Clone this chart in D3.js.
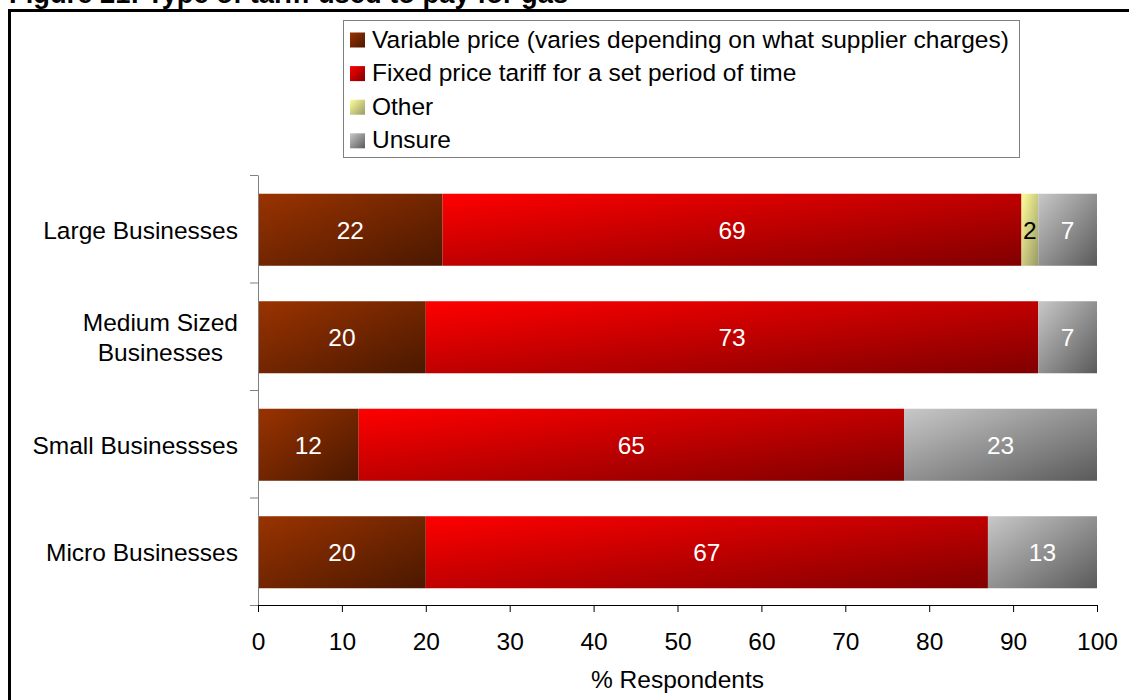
<!DOCTYPE html>
<html>
<head>
<meta charset="utf-8">
<script src="https://cdn.jsdelivr.net/npm/d3@7"></script>
<style>
  html, body { margin: 0; padding: 0; background: #fff; }
  svg { display: block; font-family: Arial, "Liberation Sans", sans-serif; }
</style>
</head>
<body>
<svg id="chart" width="1129" height="700"></svg>
<script>
// Share of respondents by tariff type, per business size
const categories = ["Large Businesses", "Medium Sized\nBusinesses", "Small Businessses", "Micro Businesses"];
const seriesNames = [
  "Variable price (varies depending on what supplier charges)",
  "Fixed price tariff for a set period of time",
  "Other",
  "Unsure"
];
const variablePrice = [22, 20, 12, 20];
const fixedPrice    = [69, 73, 65, 67];
const otherTariff   = [2, 0, 0, 0];
const unsure        = [7, 7, 23, 13];
const xTicks = [0, 10, 20, 30, 40, 50, 60, 70, 80, 90, 100];

const seriesValues = [variablePrice, fixedPrice, otherTariff, unsure];
const gradients = [
  ["#9a3300", "#4a1800"],
  ["#ff0000", "#800000"],
  ["#ffff99", "#999966"],
  ["#c8c8c8", "#5a5a5a"]
];
const labelColors = ["#fff", "#fff", "#000", "#fff"];
const FS = 24.5;

const svg = d3.select("#chart");
const defs = svg.append("defs");
gradients.forEach((g, i) => {
  const lg = defs.append("linearGradient")
    .attr("id", "grad" + i)
    .attr("x1", 0).attr("y1", 0).attr("x2", 1).attr("y2", 1);
  lg.append("stop").attr("offset", "0%").attr("stop-color", g[0]);
  lg.append("stop").attr("offset", "100%").attr("stop-color", g[1]);
});

// Heading (partly above the page edge) and outer frame
svg.append("text")
  .attr("x", 9).attr("y", 3)
  .attr("font-size", 27.3).attr("font-weight", "bold")
  .attr("fill", "#000")
  .text("Figure 21: Type of tariff used to pay for gas");

svg.append("rect")
  .attr("x", 9.5).attr("y", 10.5)
  .attr("width", 1130).attr("height", 700)
  .attr("fill", "none").attr("stroke", "#000").attr("stroke-width", 3);

// Scales
const x = d3.scaleLinear().domain([0, 100]).range([258, 1097]);
const y = d3.scaleBand().domain(categories).range([176, 606])
  .paddingInner(0.33).paddingOuter(0.165);
const yEdges = d3.scaleLinear().domain([0, categories.length]).range([175, 605]);

// Stack the series
const rows = categories.map((c, i) => {
  const o = { category: c };
  seriesNames.forEach((s, j) => { o[s] = seriesValues[j][i]; });
  return o;
});
const stacked = d3.stack().keys(seriesNames)(rows);

const barsG = svg.append("g");
stacked.forEach((layer, j) => {
  const g = barsG.append("g");
  g.selectAll("rect")
    .data(layer.filter(d => d[1] - d[0] > 0))
    .join("rect")
    .attr("x", d => x(d[0]))
    .attr("y", d => y(d.data.category))
    .attr("width", d => x(d[1]) - x(d[0]))
    .attr("height", y.bandwidth())
    .attr("fill", `url(#grad${j})`);
  g.selectAll("text")
    .data(layer.filter(d => d[1] - d[0] > 0))
    .join("text")
    .attr("x", d => (x(d[0]) + x(d[1])) / 2)
    .attr("y", d => y(d.data.category) + y.bandwidth() / 2)
    .attr("dy", "0.36em")
    .attr("text-anchor", "middle")
    .attr("font-size", FS)
    .attr("fill", labelColors[j])
    .text(d => d[1] - d[0]);
});

// Y axis with ticks between categories
const yAxis = svg.append("g")
  .attr("transform", "translate(258,0)")
  .call(d3.axisLeft(yEdges).ticks(categories.length).tickFormat("").tickSize(8).tickSizeOuter(0));
yAxis.select(".domain").attr("stroke", "#808080");
yAxis.selectAll(".tick line").attr("stroke", "#808080");

// Category labels (multi-line labels centred on their widest line)
const catG = svg.append("g");
categories.forEach(c => {
  const lines = c.split("\n");
  const cy = y(c) + y.bandwidth() / 2;
  const t = catG.append("text")
    .attr("font-size", FS).attr("fill", "#000");
  const lh = 29.5;
  const spans = lines.map((ln, k) => t.append("tspan")
    .attr("y", cy + (k - (lines.length - 1) / 2) * lh)
    .attr("dy", "0.36em")
    .text(ln));
  if (lines.length === 1) {
    t.attr("text-anchor", "end");
    spans[0].attr("x", 238);
  } else {
    const w = d3.max(spans.map(s => s.node().getComputedTextLength()));
    t.attr("text-anchor", "middle");
    spans.forEach(s => s.attr("x", 238 - w / 2));
  }
});

// X axis
const xAxis = svg.append("g")
  .attr("transform", "translate(0,605)")
  .call(d3.axisBottom(x).tickValues(xTicks).tickSize(7).tickSizeOuter(0));
xAxis.select(".domain").attr("stroke", "#000");
xAxis.selectAll(".tick line").attr("stroke", "#000");
xAxis.selectAll(".tick text")
  .attr("font-size", FS)
  .attr("font-family", "Arial, 'Liberation Sans', sans-serif")
  .attr("fill", "#000")
  .attr("y", 45).attr("dy", 0);

svg.append("text")
  .attr("x", (x(0) + x(100)) / 2).attr("y", 688)
  .attr("text-anchor", "middle")
  .attr("font-size", FS).attr("fill", "#000")
  .text("% Respondents");

// Legend
const legend = svg.append("g");
legend.append("rect")
  .attr("x", 343.5).attr("y", 20.5)
  .attr("width", 676).attr("height", 137)
  .attr("fill", "#fff").attr("stroke", "#808080").attr("stroke-width", 1);
seriesNames.forEach((s, i) => {
  const base = 47.5 + i * 33.6;
  legend.append("rect")
    .attr("x", 350).attr("y", base - 15)
    .attr("width", 15).attr("height", 15)
    .attr("fill", `url(#grad${i})`);
  legend.append("text")
    .attr("x", 372).attr("y", base)
    .attr("font-size", FS).attr("fill", "#000")
    .text(s);
});
</script>
</body>
</html>
